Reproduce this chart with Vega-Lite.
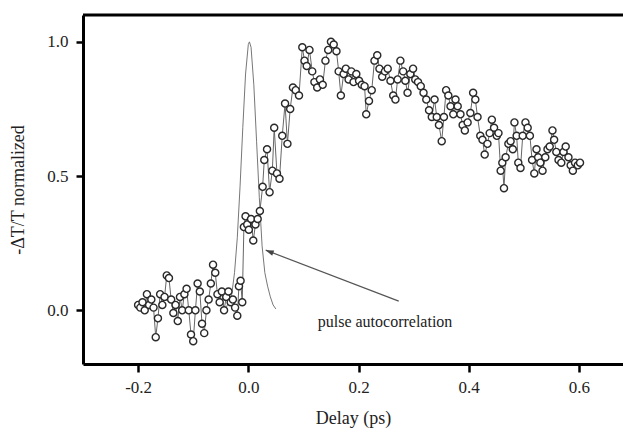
{
  "$schema": "https://vega.github.io/schema/vega-lite/v6.json",
  "width": 540,
  "height": 349,
  "autosize": {"type": "none"},
  "padding": {"left": 83, "top": 15, "right": 0, "bottom": 73},
  "background": "white",
  "config": {
    "view": {"stroke": null},
    "font": "Liberation Serif, serif",
    "axis": {
      "grid": false,
      "domainColor": "black",
      "domainWidth": 3,
      "tickColor": "black",
      "tickWidth": 2.5,
      "labelFont": "Liberation Serif, serif",
      "labelColor": "#222",
      "labelFontSize": 17,
      "titleFont": "Liberation Serif, serif",
      "titleColor": "#222",
      "titleFontSize": 18,
      "titleFontWeight": "normal"
    }
  },
  "datasets": {
    "obs": [
      {"t": -0.200, "v": 0.02}, {"t": -0.196, "v": 0.01}, {"t": -0.192, "v": 0.03}, {"t": -0.188, "v": 0.00},
      {"t": -0.184, "v": 0.06}, {"t": -0.180, "v": 0.02}, {"t": -0.176, "v": 0.04}, {"t": -0.172, "v": 0.01},
      {"t": -0.168, "v": -0.10}, {"t": -0.164, "v": -0.03}, {"t": -0.160, "v": 0.06}, {"t": -0.156, "v": 0.02},
      {"t": -0.152, "v": 0.05}, {"t": -0.148, "v": 0.13}, {"t": -0.144, "v": 0.12}, {"t": -0.140, "v": 0.04},
      {"t": -0.136, "v": -0.01}, {"t": -0.132, "v": 0.02}, {"t": -0.128, "v": -0.04}, {"t": -0.124, "v": 0.05},
      {"t": -0.120, "v": 0.00}, {"t": -0.116, "v": 0.06}, {"t": -0.112, "v": 0.08}, {"t": -0.108, "v": 0.00},
      {"t": -0.104, "v": -0.09}, {"t": -0.100, "v": -0.115}, {"t": -0.096, "v": 0.00}, {"t": -0.092, "v": 0.10},
      {"t": -0.088, "v": 0.07}, {"t": -0.084, "v": -0.05}, {"t": -0.080, "v": -0.085}, {"t": -0.076, "v": 0.00},
      {"t": -0.072, "v": 0.04}, {"t": -0.068, "v": 0.10}, {"t": -0.064, "v": 0.17}, {"t": -0.060, "v": 0.14},
      {"t": -0.056, "v": 0.06}, {"t": -0.052, "v": 0.03}, {"t": -0.048, "v": 0.07}, {"t": -0.044, "v": 0.00},
      {"t": -0.040, "v": 0.05}, {"t": -0.036, "v": 0.07}, {"t": -0.032, "v": 0.03}, {"t": -0.028, "v": 0.04},
      {"t": -0.024, "v": 0.01}, {"t": -0.020, "v": -0.02}, {"t": -0.017, "v": 0.09}, {"t": -0.014, "v": 0.11},
      {"t": -0.011, "v": 0.03}, {"t": -0.008, "v": 0.31}, {"t": -0.005, "v": 0.35}, {"t": -0.002, "v": 0.32},
      {"t": 0.001, "v": 0.30}, {"t": 0.005, "v": 0.34}, {"t": 0.009, "v": 0.26}, {"t": 0.013, "v": 0.32},
      {"t": 0.017, "v": 0.34}, {"t": 0.021, "v": 0.37}, {"t": 0.026, "v": 0.46}, {"t": 0.029, "v": 0.56},
      {"t": 0.034, "v": 0.60}, {"t": 0.0386, "v": 0.44}, {"t": 0.0436, "v": 0.52}, {"t": 0.047, "v": 0.68},
      {"t": 0.052, "v": 0.51}, {"t": 0.0566, "v": 0.49}, {"t": 0.0616, "v": 0.65}, {"t": 0.0667, "v": 0.77},
      {"t": 0.071, "v": 0.62}, {"t": 0.076, "v": 0.75}, {"t": 0.081, "v": 0.83}, {"t": 0.086, "v": 0.82},
      {"t": 0.092, "v": 0.80}, {"t": 0.098, "v": 0.98}, {"t": 0.102, "v": 0.93}, {"t": 0.106, "v": 0.91},
      {"t": 0.111, "v": 0.97}, {"t": 0.116, "v": 0.89}, {"t": 0.120, "v": 0.85}, {"t": 0.125, "v": 0.83},
      {"t": 0.130, "v": 0.86}, {"t": 0.135, "v": 0.84}, {"t": 0.140, "v": 0.93}, {"t": 0.145, "v": 0.97},
      {"t": 0.150, "v": 1.00}, {"t": 0.155, "v": 0.99}, {"t": 0.160, "v": 0.965}, {"t": 0.164, "v": 0.89},
      {"t": 0.168, "v": 0.80}, {"t": 0.173, "v": 0.88}, {"t": 0.177, "v": 0.90}, {"t": 0.182, "v": 0.86},
      {"t": 0.187, "v": 0.89}, {"t": 0.191, "v": 0.85}, {"t": 0.196, "v": 0.88}, {"t": 0.201, "v": 0.855},
      {"t": 0.206, "v": 0.84}, {"t": 0.211, "v": 0.835}, {"t": 0.214, "v": 0.73}, {"t": 0.219, "v": 0.78},
      {"t": 0.224, "v": 0.82}, {"t": 0.229, "v": 0.93}, {"t": 0.234, "v": 0.95}, {"t": 0.238, "v": 0.90},
      {"t": 0.243, "v": 0.87}, {"t": 0.248, "v": 0.89}, {"t": 0.253, "v": 0.90}, {"t": 0.258, "v": 0.855},
      {"t": 0.263, "v": 0.80}, {"t": 0.267, "v": 0.785}, {"t": 0.271, "v": 0.86}, {"t": 0.276, "v": 0.93},
      {"t": 0.281, "v": 0.89}, {"t": 0.285, "v": 0.855}, {"t": 0.289, "v": 0.81}, {"t": 0.294, "v": 0.88},
      {"t": 0.299, "v": 0.90}, {"t": 0.303, "v": 0.86}, {"t": 0.308, "v": 0.85}, {"t": 0.313, "v": 0.835},
      {"t": 0.318, "v": 0.81}, {"t": 0.323, "v": 0.785}, {"t": 0.328, "v": 0.745}, {"t": 0.333, "v": 0.72},
      {"t": 0.338, "v": 0.785}, {"t": 0.342, "v": 0.72}, {"t": 0.346, "v": 0.69}, {"t": 0.351, "v": 0.63},
      {"t": 0.355, "v": 0.72}, {"t": 0.359, "v": 0.82}, {"t": 0.363, "v": 0.80}, {"t": 0.367, "v": 0.76},
      {"t": 0.372, "v": 0.73}, {"t": 0.376, "v": 0.785}, {"t": 0.380, "v": 0.76}, {"t": 0.385, "v": 0.73},
      {"t": 0.389, "v": 0.69}, {"t": 0.393, "v": 0.67}, {"t": 0.398, "v": 0.70}, {"t": 0.403, "v": 0.735},
      {"t": 0.408, "v": 0.81}, {"t": 0.412, "v": 0.785}, {"t": 0.416, "v": 0.72}, {"t": 0.421, "v": 0.65},
      {"t": 0.425, "v": 0.635}, {"t": 0.429, "v": 0.58}, {"t": 0.434, "v": 0.62}, {"t": 0.438, "v": 0.66},
      {"t": 0.442, "v": 0.71}, {"t": 0.446, "v": 0.68}, {"t": 0.451, "v": 0.65}, {"t": 0.454, "v": 0.66},
      {"t": 0.458, "v": 0.52}, {"t": 0.461, "v": 0.55}, {"t": 0.464, "v": 0.455}, {"t": 0.467, "v": 0.57},
      {"t": 0.472, "v": 0.62}, {"t": 0.476, "v": 0.63}, {"t": 0.480, "v": 0.60}, {"t": 0.483, "v": 0.70},
      {"t": 0.487, "v": 0.65}, {"t": 0.490, "v": 0.55}, {"t": 0.494, "v": 0.53}, {"t": 0.498, "v": 0.65},
      {"t": 0.503, "v": 0.70}, {"t": 0.507, "v": 0.68}, {"t": 0.511, "v": 0.65}, {"t": 0.515, "v": 0.56},
      {"t": 0.519, "v": 0.51}, {"t": 0.523, "v": 0.60}, {"t": 0.526, "v": 0.57}, {"t": 0.530, "v": 0.55},
      {"t": 0.534, "v": 0.52}, {"t": 0.539, "v": 0.57}, {"t": 0.543, "v": 0.60}, {"t": 0.547, "v": 0.61},
      {"t": 0.552, "v": 0.67}, {"t": 0.555, "v": 0.635}, {"t": 0.559, "v": 0.59}, {"t": 0.563, "v": 0.56},
      {"t": 0.568, "v": 0.55}, {"t": 0.572, "v": 0.59}, {"t": 0.576, "v": 0.61}, {"t": 0.581, "v": 0.57},
      {"t": 0.585, "v": 0.54}, {"t": 0.589, "v": 0.52}, {"t": 0.593, "v": 0.55}, {"t": 0.598, "v": 0.54},
      {"t": 0.602, "v": 0.55}
    ],
    "pulse": [
      {"t": -0.040, "v": 0.01}, {"t": -0.030, "v": 0.06}, {"t": -0.025, "v": 0.14}, {"t": -0.020, "v": 0.27},
      {"t": -0.015, "v": 0.46}, {"t": -0.010, "v": 0.68}, {"t": -0.005, "v": 0.88}, {"t": 0.000, "v": 0.99},
      {"t": 0.002, "v": 1.00}, {"t": 0.005, "v": 0.98}, {"t": 0.010, "v": 0.84}, {"t": 0.015, "v": 0.63},
      {"t": 0.020, "v": 0.42}, {"t": 0.025, "v": 0.24}, {"t": 0.030, "v": 0.14}, {"t": 0.035, "v": 0.09},
      {"t": 0.040, "v": 0.05}, {"t": 0.045, "v": 0.02}, {"t": 0.050, "v": 0.005}
    ],
    "arrow": [{"t": 0.273, "v": 0.034, "t2": 0.0316, "v2": 0.224}],
    "note": [{"t": 0.126, "v": -0.045, "label": "pulse autocorrelation"}],
    "frame": [{"v": 1.1}]
  },
  "layer": [
    {
      "data": {"name": "pulse"},
      "mark": {"type": "line", "color": "#777", "strokeWidth": 1},
      "encoding": {
        "x": {
          "field": "t", "type": "quantitative",
          "scale": {"domain": [-0.3, 0.68], "nice": false, "zero": false},
          "axis": {
            "orient": "bottom",
            "values": [-0.2, 0, 0.2, 0.4, 0.6],
            "labelExpr": "datum.value < 0 ? '-' + format(-datum.value, '.1f') : format(datum.value, '.1f')",
            "tickSize": 8,
            "labelPadding": 7,
            "title": "Delay (ps)",
            "titlePadding": 14
          }
        },
        "y": {
          "field": "v", "type": "quantitative",
          "scale": {"domain": [-0.2, 1.1], "nice": false, "zero": false},
          "axis": {
            "values": [0, 0.5, 1.0],
            "format": ".1f",
            "tickSize": 7,
            "labelPadding": 8,
            "title": "-ΔT/T normalized",
            "titlePadding": 19
          }
        }
      }
    },
    {
      "data": {"name": "obs"},
      "mark": {"type": "line", "color": "#666", "strokeWidth": 1},
      "encoding": {
        "x": {"field": "t", "type": "quantitative"},
        "y": {"field": "v", "type": "quantitative"}
      }
    },
    {
      "data": {"name": "obs"},
      "mark": {"type": "point", "shape": "circle", "filled": true, "fill": "white", "stroke": "#2a2a2a", "strokeWidth": 1.4, "size": 50, "opacity": 1},
      "encoding": {
        "x": {"field": "t", "type": "quantitative"},
        "y": {"field": "v", "type": "quantitative"}
      }
    },
    {
      "data": {"name": "arrow"},
      "mark": {"type": "rule", "color": "#555", "strokeWidth": 1.2},
      "encoding": {
        "x": {"field": "t", "type": "quantitative"},
        "y": {"field": "v", "type": "quantitative"},
        "x2": {"field": "t2"},
        "y2": {"field": "v2"}
      }
    },
    {
      "data": {"name": "arrow"},
      "mark": {"type": "point", "shape": "M0,0L-0.35,1L0.35,1Z", "filled": true, "color": "#444", "size": 256, "angle": 291, "opacity": 1},
      "encoding": {
        "x": {"field": "t2", "type": "quantitative"},
        "y": {"field": "v2", "type": "quantitative"}
      }
    },
    {
      "data": {"name": "note"},
      "mark": {"type": "text", "align": "left", "baseline": "middle", "font": "Liberation Serif, serif", "fontSize": 16, "color": "#222"},
      "encoding": {
        "x": {"field": "t", "type": "quantitative"},
        "y": {"field": "v", "type": "quantitative"},
        "text": {"field": "label"}
      }
    },
    {
      "data": {"name": "frame"},
      "mark": {"type": "rule", "color": "black", "strokeWidth": 3},
      "encoding": {
        "y": {"field": "v", "type": "quantitative"}
      }
    }
  ]
}
